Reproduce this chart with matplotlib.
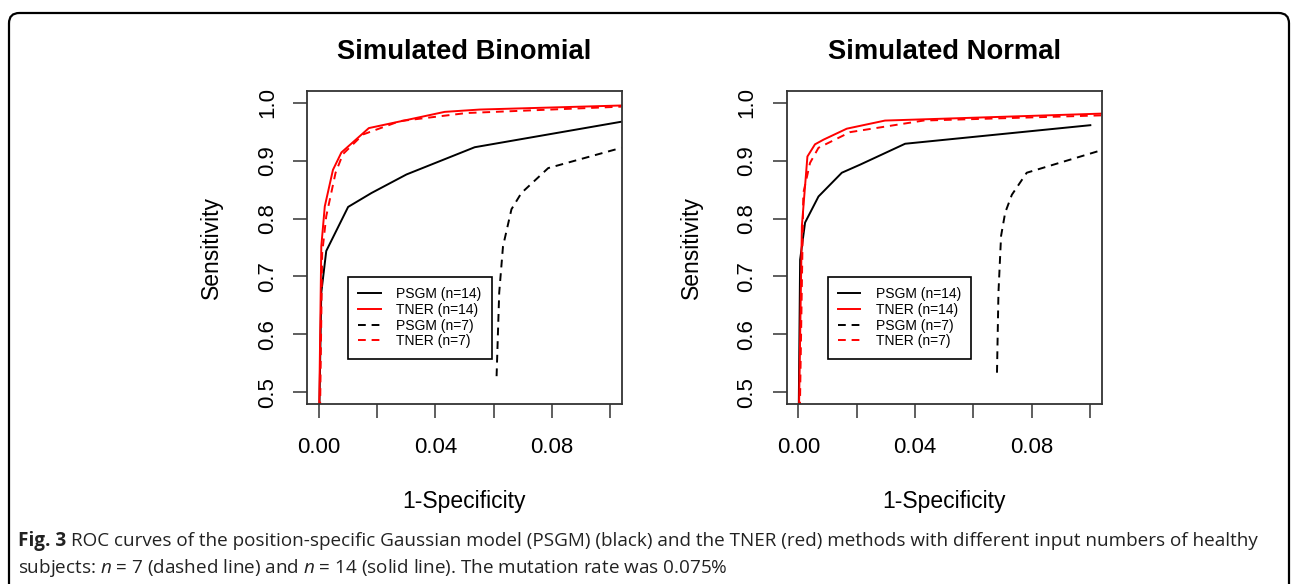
import matplotlib
matplotlib.use("Agg")
import matplotlib.pyplot as plt
from matplotlib.patches import FancyBboxPatch

plt.rcParams["font.family"] = ["Liberation Sans", "DejaVu Sans"]
plt.rcParams["mathtext.fontset"] = "custom"
plt.rcParams["mathtext.rm"] = "Open Sans"
plt.rcParams["mathtext.it"] = "Open Sans:italic"
plt.rcParams["mathtext.bf"] = "Open Sans:bold"

# ---- data (1-specificity, sensitivity) ----
titles = ["Simulated Binomial", "Simulated Normal"]
legend_labels = ["PSGM (n=14)", "TNER (n=14)", "PSGM (n=7)", "TNER (n=7)"]

# Simulated Binomial
binom_psgm14_x = [0.0, 0.0009, 0.0026, 0.0101, 0.0181, 0.0301, 0.0535, 0.1038]
binom_psgm14_y = [0.40, 0.672, 0.744, 0.820, 0.844, 0.876, 0.923, 0.967]
binom_tner14_x = [0.0, 0.0009, 0.0021, 0.0049, 0.0078, 0.0172, 0.0432, 0.0552, 0.1038]
binom_tner14_y = [0.40, 0.752, 0.821, 0.884, 0.914, 0.956, 0.984, 0.988, 0.995]
binom_psgm7_x = [0.0610, 0.0619, 0.0632, 0.0661, 0.0695, 0.0787, 0.1038]
binom_psgm7_y = [0.528, 0.672, 0.752, 0.816, 0.844, 0.887, 0.922]
binom_tner7_x = [0.0003, 0.0012, 0.0026, 0.0058, 0.0083, 0.0152, 0.0278, 0.0507, 0.1038]
binom_tner7_y = [0.40, 0.740, 0.804, 0.879, 0.911, 0.945, 0.968, 0.982, 0.993]

# Simulated Normal
normal_psgm14_x = [0.0, 0.0006, 0.0023, 0.0069, 0.0149, 0.0212, 0.0366, 0.1001]
normal_psgm14_y = [0.40, 0.729, 0.793, 0.838, 0.879, 0.893, 0.929, 0.961]
normal_tner14_x = [0.0, 0.0012, 0.0031, 0.0057, 0.0086, 0.0166, 0.0297, 0.1040]
normal_tner14_y = [0.40, 0.787, 0.907, 0.928, 0.936, 0.955, 0.969, 0.981]
normal_psgm7_x = [0.0681, 0.0686, 0.0695, 0.0709, 0.0732, 0.0783, 0.1040]
normal_psgm7_y = [0.534, 0.672, 0.770, 0.810, 0.841, 0.879, 0.918]
normal_tner7_x = [0.0003, 0.0017, 0.0040, 0.0069, 0.0177, 0.0429, 0.1040]
normal_tner7_y = [0.40, 0.844, 0.896, 0.922, 0.949, 0.969, 0.978]

x_ticks = [0.0, 0.02, 0.04, 0.06, 0.08, 0.10]
x_ticklabels = ["0.00", "", "0.04", "", "0.08", ""]
y_ticks = [0.5, 0.6, 0.7, 0.8, 0.9, 1.0]
y_ticklabels = ["0.5", "0.6", "0.7", "0.8", "0.9", "1.0"]

caption_fig = "Fig. 3"
caption_1 = ("ROC curves of the position-specific Gaussian model (PSGM) "
             "(black) and the TNER (red) methods with different input numbers of healthy")
caption_2 = (r"subjects: $n$ = 7 (dashed line) and $n$ = 14 (solid line). "
             "The mutation rate was 0.075%")

DASH = (0, (4, 3))
CAP_SIZE = 13.6


def draw_panel(ax, title, series):
    styles = [("black", "-"), ("red", "-"), ("black", DASH), ("red", DASH)]
    for (x, y), (color, ls), label in zip(series, styles, legend_labels):
        ax.plot(x, y, color=color, linestyle=ls, linewidth=1.4, label=label)

    ax.set_xlim(-0.004, 0.104)
    ax.set_ylim(0.48, 1.02)
    ax.set_xticks(x_ticks)
    ax.set_xticklabels(x_ticklabels)
    ax.set_yticks(y_ticks)
    ax.set_yticklabels(y_ticklabels, rotation=90, va="center")
    ax.tick_params(axis="both", direction="out", length=10, width=1.1,
                   labelsize=16, color="#333333")
    ax.tick_params(axis="x", pad=14)
    ax.tick_params(axis="y", pad=11)
    for sp in ax.spines.values():
        sp.set_linewidth(1.3)
        sp.set_color("#333333")

    ax.text(0.5, 1.125, title, transform=ax.transAxes, ha="center", va="center",
            fontsize=19.7, fontweight="bold")
    ax.text(0.5, -0.31, "1-Specificity", transform=ax.transAxes, ha="center",
            va="center", fontsize=16.5)
    ax.text(-0.302, 0.5, "Sensitivity", transform=ax.transAxes, ha="center",
            va="center", rotation=90, fontsize=16.5)

    leg = ax.legend(loc="upper left", bbox_to_anchor=(0.130, 0.406), fontsize=10,
                    frameon=True, fancybox=False, framealpha=1, edgecolor="black",
                    borderaxespad=0, handlelength=1.6, handletextpad=1.1,
                    labelspacing=0.12, borderpad=0.75)
    leg.get_frame().set_linewidth(1.2)


fig = plt.figure(figsize=(12.92, 5.84), dpi=100)

border = FancyBboxPatch((9 / 1292, -0.05), (1289 - 9) / 1292, 1.05 - 13 / 584,
                        boxstyle="round,pad=0,rounding_size=0.008",
                        transform=fig.transFigure, facecolor="none",
                        edgecolor="black", linewidth=1.6, mutation_aspect=1292 / 584)
fig.patches.append(border)

ax1 = fig.add_axes([307 / 1292, 1 - 404 / 584, 315 / 1292, 313 / 584])
ax2 = fig.add_axes([786.7 / 1292, 1 - 404 / 584, 315 / 1292, 313 / 584])

draw_panel(ax1, titles[0], [(binom_psgm14_x, binom_psgm14_y),
                            (binom_tner14_x, binom_tner14_y),
                            (binom_psgm7_x, binom_psgm7_y),
                            (binom_tner7_x, binom_tner7_y)])
draw_panel(ax2, titles[1], [(normal_psgm14_x, normal_psgm14_y),
                            (normal_tner14_x, normal_tner14_y),
                            (normal_psgm7_x, normal_psgm7_y),
                            (normal_tner7_x, normal_tner7_y)])

# caption: bold "Fig. 3" followed by the plain text on the same baseline
t_fig = fig.text(18 / 1292, 1 - 546 / 584, caption_fig, family="Open Sans",
                 fontweight="bold", fontsize=CAP_SIZE, ha="left", va="baseline",
                 color="#222222")
renderer = fig.canvas.get_renderer()
x_end = t_fig.get_window_extent(renderer).x1
fig.text((x_end + 5) / 1292, 1 - 546 / 584, caption_1, family="Open Sans",
         fontsize=CAP_SIZE, ha="left", va="baseline", color="#222222")
fig.text(18 / 1292, 1 - 573 / 584, caption_2, family="Open Sans", fontsize=CAP_SIZE,
         ha="left", va="baseline", color="#222222")

fig.savefig("out.png", dpi=100)
